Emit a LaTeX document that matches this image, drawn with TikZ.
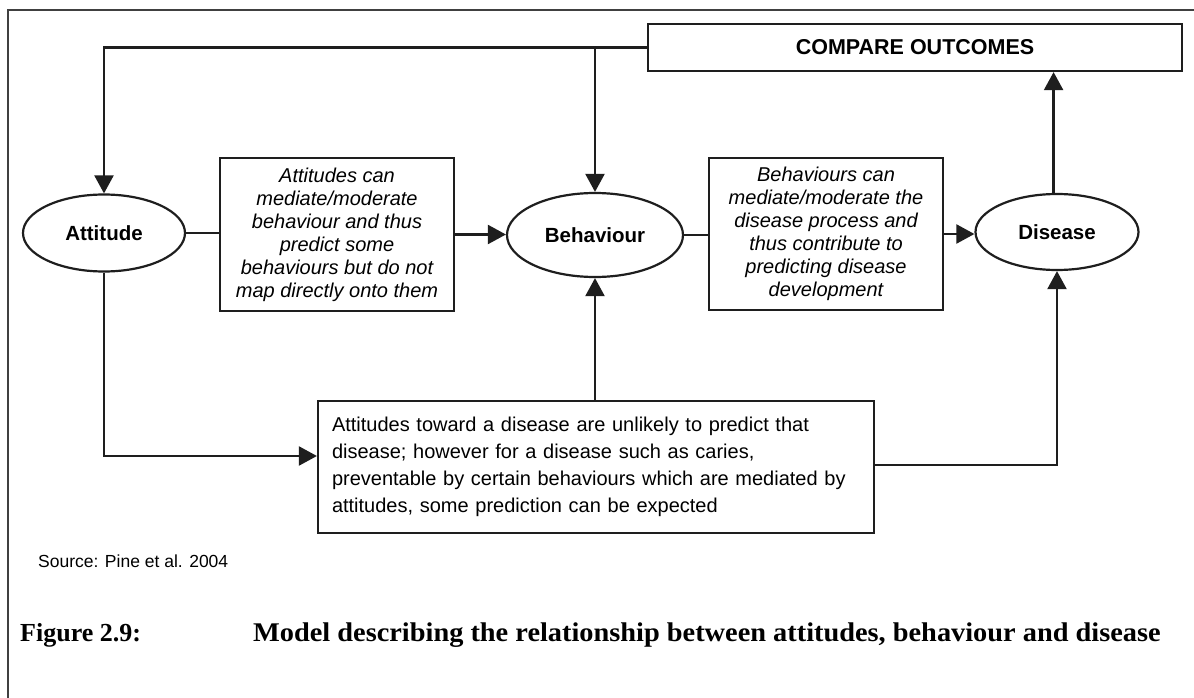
\documentclass[tikz,border=0pt]{standalone}
\usepackage{fontspec}
\setmainfont{Liberation Sans}
\newfontfamily\capfont{Liberation Serif}
\newfontfamily\capwidefont[FakeStretch=1.05]{Liberation Serif}
\usetikzlibrary{arrows.meta,shapes.geometric}
\definecolor{ink}{HTML}{1E1E1E}
\begin{document}
\begin{tikzpicture}[x=1pt,y=-1pt,
  tri/.tip={Triangle[length=18pt,width=19pt]},
  oval/.style={ellipse, draw=ink, line width=2.2pt, inner sep=0pt,
    font=\fontsize{20.5}{23}\selectfont\bfseries},
  notebox/.style={rectangle, draw=ink, line width=2.2pt, inner sep=0pt,
    align=center, font=\fontsize{20}{23}\selectfont\itshape},
  widebox/.style={rectangle, draw=ink, line width=2.2pt, inner sep=0pt,
    align=left, font=\fontsize{20}{27}\selectfont},
  link/.style={draw=ink, line width=2.2pt},
  arrowlink/.style={link, -tri}]
\useasboundingbox (0,0) rectangle (1194,698);
\fill[white] (0,0) rectangle (1194,698);

% outer frame (top and left edges)
\draw[ink!85, line width=1.6pt] (1194,10) -- (8,10) -- (8,698);

% main nodes
\node[oval, minimum width=162pt, minimum height=77pt] (att) at (104,233) {Attitude};
\node[oval, minimum width=176pt, minimum height=84pt] (beh) at (595,235) {Behaviour};
\node[oval, minimum width=163pt, minimum height=76pt] (dis) at (1057,232) {Disease};

\node[notebox, minimum width=234pt, minimum height=153pt] (b1) at (337,234.5)
  {Attitudes can\\mediate/moderate\\behaviour and thus\\predict some\\behaviours but do not\\map directly onto them};
\node[notebox, minimum width=234pt, minimum height=152pt] (b2) at (826,234)
  {Behaviours can\\mediate/moderate the\\disease process and\\thus contribute to\\predicting disease\\development};

\node[widebox, minimum width=556pt, minimum height=132pt, text width=528pt] (bot) at (596,467)
  {Attitudes toward a disease are unlikely to predict that\\disease; however for a disease such as caries,\\preventable by certain behaviours which are mediated by\\attitudes, some prediction can be expected};

\node[rectangle, draw=ink, line width=2.2pt, minimum width=534pt, minimum height=47pt,
  font=\fontsize{21.5}{24}\selectfont\bfseries] (cmp) at (915,47.5) {COMPARE OUTCOMES};

% connectors
\draw[link] (att.east) -- (att.east -| b1.west);
\draw[arrowlink] (b1.east) -- (b1.east -| beh.west);
\draw[link] (beh.east) -- (beh.east -| b2.west);
\draw[arrowlink] (b2.east) -- (b2.east -| dis.west);

\draw[arrowlink] (cmp.west) -| (att.north);
\draw[arrowlink] (beh.north |- cmp.west) -- (beh.north);
\draw[arrowlink] (dis.95) -- (dis.95 |- cmp.south);

\draw[arrowlink] (att.south) |- ([yshift=11pt]bot.west);
\draw[arrowlink] (bot.north) -- (bot.north -| beh.south) -- (beh.south);
\draw[arrowlink] ([yshift=2pt]bot.east) -| (dis.south);

% source and caption
\node[anchor=west, inner sep=0pt, font=\fontsize{17.5}{20}\selectfont] (src) at (38,561)
  {Source: Pine et al. 2004};
\node[anchor=base west, inner sep=0pt, font=\capfont\bfseries\fontsize{26}{30}\selectfont] (fig) at (20,641)
  {Figure 2.9:};
\node[anchor=base west, inner sep=0pt, font=\capwidefont\bfseries\fontsize{27}{30}\selectfont] (cap) at (253,641)
  {Model describing the relationship between attitudes, behaviour and disease};
\end{tikzpicture}
\end{document}
